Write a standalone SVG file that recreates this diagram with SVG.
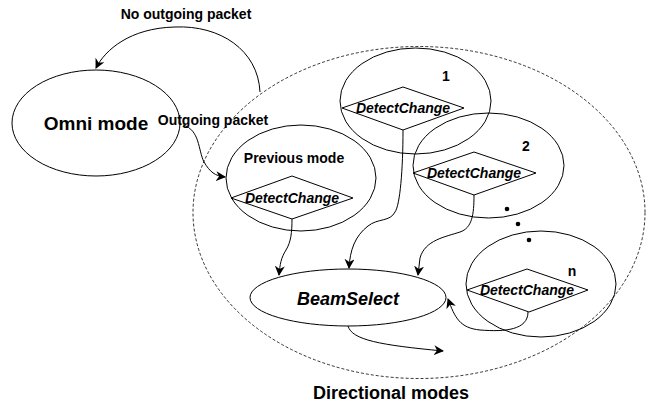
<svg xmlns="http://www.w3.org/2000/svg" width="652" height="402" viewBox="0 0 652 402">
<style>
.sh{fill:none;stroke:#000;stroke-width:1}
.dash{fill:none;stroke:#000;stroke-width:0.8;stroke-dasharray:3,2}
.t{font-family:"Liberation Sans",Arial,sans-serif;font-weight:bold;fill:#000}
.dc{font-family:"Liberation Sans",Arial,sans-serif;font-weight:bold;font-style:italic;font-size:14px;text-anchor:middle;fill:#000}
.c{fill:none;stroke:#000;stroke-width:1;marker-end:url(#ah)}
</style>
<defs>
<marker id="ah" viewBox="0 0 10 10" refX="9" refY="5" markerWidth="10" markerHeight="10" markerUnits="userSpaceOnUse" orient="auto">
<path d="M0,0 L10,5 L0,10 L3,5 z" fill="#000"/>
</marker>
</defs>
<g id="directional">
<ellipse class="dash" cx="419" cy="212.5" rx="226" ry="166"/>
<text class="t" x="391" y="399" font-size="18" text-anchor="middle">Directional modes</text>
</g>
<g id="omni">
<ellipse class="sh" cx="96" cy="123" rx="84" ry="53"/>
<text class="t" x="96" y="130" font-size="19" text-anchor="middle">Omni mode</text>
</g>
<g id="previous">
<ellipse class="sh" cx="301" cy="178" rx="75" ry="53"/>
<text class="t" x="294" y="163" font-size="14" text-anchor="middle">Previous mode</text>
<path class="sh" d="M231,198 L292,176 L353,198 L292,219 Z"/>
<text class="dc" x="292" y="203">DetectChange</text>
</g>
<g id="mode1">
<ellipse class="sh" cx="415.5" cy="101" rx="75.5" ry="53"/>
<text class="t" x="446" y="81" font-size="14" text-anchor="middle">1</text>
<path class="sh" d="M342,108 L403,87 L464,108 L403,130 Z"/>
<text class="dc" x="403" y="113">DetectChange</text>
</g>
<g id="mode2">
<ellipse class="sh" cx="488.5" cy="165.5" rx="75.5" ry="52.5"/>
<text class="t" x="526" y="151" font-size="14" text-anchor="middle">2</text>
<path class="sh" d="M413,173 L474,152 L536,173 L474,195 Z"/>
<text class="dc" x="474" y="178">DetectChange</text>
</g>
<g id="dots">
<circle cx="507" cy="209" r="2.3" fill="#000"/>
<circle cx="518" cy="224" r="2.3" fill="#000"/>
<circle cx="529" cy="240" r="2.3" fill="#000"/>
</g>
<g id="moden">
<ellipse class="sh" cx="541" cy="284" rx="75" ry="53"/>
<text class="t" x="572" y="276" font-size="14" text-anchor="middle">n</text>
<path class="sh" d="M467,290 L527,269 L588,290 L529,312 Z"/>
<text class="dc" x="527" y="295">DetectChange</text>
</g>
<g id="beamselect">
<ellipse class="sh" cx="348" cy="297.5" rx="98" ry="28.5"/>
<text class="t" x="348" y="305" font-size="18" font-style="italic" text-anchor="middle">BeamSelect</text>
</g>
<g id="connectors">
<path class="c" d="M260,92 C258,50 220,25 175,27 C130,28 105,50 96,68"/>
<text class="t" x="186" y="19" font-size="14" text-anchor="middle">No outgoing packet</text>
<path class="c" d="M183,125 C200,130 198,150 204,162 C210,172 215,176 225,177"/>
<text class="t" x="213" y="125" font-size="14" text-anchor="middle">Outgoing packet</text>
<path class="c" d="M292,219 C292,232 291,242 286,250 C281,258 280,264 279,275"/>
<path class="c" d="M403,130 C403,170 400,205 395,212 C390,222 378,218 368,226 C355,236 350,250 349,268"/>
<path class="c" d="M474,195 C474,215 472,228 460,232 C445,237 425,240 420,258 L418,275"/>
<path class="c" d="M528,312 C528,330 505,332 480,330 C460,328 455,318 448,299"/>
<path class="c" d="M348,326 C352,340 380,345 443,351"/>
</g>
</svg>
